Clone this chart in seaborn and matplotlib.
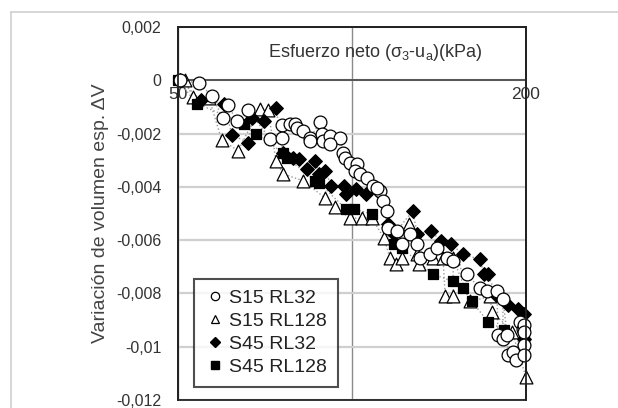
import matplotlib
matplotlib.use("Agg")
import matplotlib.pyplot as plt
from matplotlib.lines import Line2D
from matplotlib.patches import Rectangle
import pandas as pd
import seaborn as sns

# S15 RL32 (circulos)
s15_rl32_x = [50.4, 54.4, 57.3, 61.0, 59.8, 63.2, 66.1, 72.1, 75.7, 75.7, 78.2, 79.7, 80.4, 82.3,
              84.6, 84.6, 88.1, 88.8, 89.2, 91.7, 95.3, 91.7, 96.5, 97.2, 99.2, 102.0, 101.2, 103.2,
              106.2, 108.8, 111.8, 110.5, 113.2, 115.0, 115.4, 119.6, 122.0, 126.0, 129.6, 131.1,
              136.5, 140.4, 146.1, 149.7, 158.1, 166.5, 171.2, 178.2, 182.5, 178.9, 182.5, 185.5,
              186.3, 190.0, 192.3, 195.4, 197.7, 198.5, 198.5, 198.5, 198.5]
s15_rl32_y = [0.0, -0.0001, -0.0006, -0.00094, -0.00143, -0.00151, -0.0011, -0.00219, -0.00166,
              -0.00215, -0.00162, -0.00162, -0.00177, -0.00189, -0.00215, -0.00226, -0.00158,
              -0.002, -0.00226, -0.00208, -0.00215, -0.00238, -0.00272, -0.00291, -0.00309,
              -0.00313, -0.0034, -0.00351, -0.00366, -0.00396, -0.00415, -0.00404, -0.00453,
              -0.0049, -0.00555, -0.00566, -0.00615, -0.00577, -0.00615, -0.00668, -0.00653,
              -0.0063, -0.00668, -0.00679, -0.00728, -0.00781, -0.00792, -0.00792, -0.00819,
              -0.00955, -0.0097, -0.00955, -0.0103, -0.01019, -0.01049, -0.00906, -0.00932,
              -0.00917, -0.00943, -0.00992, -0.0103]

# S15 RL128 (triangulos)
s15_rl128_x = [51.4, 53.1, 56.6, 59.5, 63.5, 69.3, 71.6, 73.9, 76.0, 82.3, 89.9, 93.5, 99.2, 104.0,
               108.3, 113.6, 116.4, 119.2, 122.0, 125.5, 129.6, 130.6, 138.2, 143.8, 145.0, 149.7,
               149.7, 160.0, 173.3, 174.7, 189.3, 200.0]
s15_rl128_y = [0.0, -0.00064, -0.00068, -0.00223, -0.00264, -0.00106, -0.00113, -0.00302, -0.00351,
               -0.00377, -0.00442, -0.00475, -0.00517, -0.00517, -0.00517, -0.00592, -0.00668,
               -0.00691, -0.00668, -0.0054, -0.00653, -0.00691, -0.00668, -0.00668, -0.00811,
               -0.00811, -0.00668, -0.0083, -0.00811, -0.00868, -0.00943, -0.01113]

# S45 RL32 (rombos)
s45_rl32_x = [50.4, 54.8, 60.0, 62.0, 66.1, 67.2, 70.5, 73.9, 76.0, 79.1, 81.0, 83.6, 86.4, 87.8,
              89.9, 92.1, 96.9, 97.6, 101.6, 105.7, 111.0, 115.4, 118.2, 127.5, 129.6, 137.1,
              142.7, 148.5, 155.6, 166.5, 169.2, 171.9, 177.5, 186.3, 193.8, 198.5, 198.5]
s45_rl32_y = [0.0, -0.00075, -0.00087, -0.00204, -0.00234, -0.00143, -0.00151, -0.00102, -0.00272,
              -0.00291, -0.00294, -0.00332, -0.00302, -0.00351, -0.0034, -0.00396, -0.00396,
              -0.00426, -0.00408, -0.00426, -0.00415, -0.0054, -0.00577, -0.0049, -0.00577,
              -0.00566, -0.00604, -0.00615, -0.00653, -0.00672, -0.00728, -0.00728, -0.00804,
              -0.00842, -0.00857, -0.00879, -0.0097]

# S45 RL128 (cuadrados)
s45_rl128_x = [50.0, 53.9, 65.0, 68.2, 76.0, 77.2, 86.4, 87.8, 97.6, 100.8, 108.3, 118.2, 122.0,
               138.2, 149.7, 155.6, 161.3, 171.9, 183.3, 198.5]
s45_rl128_y = [0.0, -0.00087, -0.00162, -0.002, -0.00272, -0.00291, -0.00377, -0.00385, -0.00483,
               -0.00483, -0.00502, -0.00615, -0.0063, -0.00728, -0.00755, -0.00781, -0.0083,
               -0.00906, -0.00936, -0.00981]

series = ["S15 RL32", "S15 RL128", "S45 RL32", "S45 RL128"]
x_ticks = [50, 100, 200]
x_tick_labels = ["50", "", "200"]
y_ticks = [0.002, 0.0, -0.002, -0.004, -0.006, -0.008, -0.01, -0.012]
y_tick_labels = ["0,002", "0", "-0,002", "-0,004", "-0,006", "-0,008", "-0,01", "-0,012"]

df = pd.concat([
    pd.DataFrame({"esfuerzo": s15_rl32_x, "dv": s15_rl32_y, "serie": series[0]}),
    pd.DataFrame({"esfuerzo": s15_rl128_x, "dv": s15_rl128_y, "serie": series[1]}),
    pd.DataFrame({"esfuerzo": s45_rl32_x, "dv": s45_rl32_y, "serie": series[2]}),
    pd.DataFrame({"esfuerzo": s45_rl128_x, "dv": s45_rl128_y, "serie": series[3]}),
])

estilos = {
    "S15 RL32": dict(marker="o", facecolor="white", s=85),
    "S15 RL128": dict(marker="^", facecolor="white", s=85),
    "S45 RL32": dict(marker="D", facecolor="black", s=48),
    "S45 RL128": dict(marker="s", facecolor="black", s=62),
}

sns.set_style("white")
plt.rcParams["font.family"] = ["Liberation Sans", "DejaVu Sans"]
plt.rcParams["mathtext.default"] = "regular"

fig = plt.figure(figsize=(6.18, 4.08), dpi=100)
ax = fig.add_axes([0.288, 0.0196, 0.563, 0.914])

orden = ["S15 RL128", "S45 RL32", "S45 RL128", "S15 RL32"]
for nombre in orden:
    sub = df[df["serie"] == nombre]
    sns.lineplot(data=sub, x="esfuerzo", y="dv", estimator=None, sort=True, color="#9a9a9a",
                 linestyle=":", linewidth=1.0, ax=ax, zorder=2, legend=False)
for nombre in orden:
    sub = df[df["serie"] == nombre]
    st = estilos[nombre]
    sns.scatterplot(data=sub, x="esfuerzo", y="dv", marker=st["marker"], s=st["s"],
                    facecolor=st["facecolor"], edgecolor="black", linewidth=0.9, ax=ax,
                    zorder=3, legend=False, clip_on=False)

ax.set_xscale("log")
ax.set_xlim(50, 200)
ax.set_ylim(-0.012, 0.002)
ax.set_xticks(x_ticks)
ax.set_xticklabels(x_tick_labels)
ax.xaxis.set_minor_locator(plt.NullLocator())
ax.set_yticks(y_ticks)
ax.set_yticklabels(y_tick_labels)
ax.tick_params(axis="y", length=0, pad=12, labelsize=11.5, colors="#333333")
ax.tick_params(axis="x", length=0, pad=5, labelsize=12.5, colors="#333333")
ax.set_xlabel("")
ax.set_ylabel("Variación de volumen esp. ΔV", fontsize=14, color="#444444", labelpad=5)

ax.yaxis.grid(True, color="#cfcfcf", linewidth=1.6)
ax.xaxis.grid(True, color="#8a8a8a", linewidth=1.0)
ax.set_axisbelow(True)

ax.spines["bottom"].set_position(("data", 0))
ax.spines["bottom"].set_color("#555555")
ax.spines["bottom"].set_linewidth(1.4)
for lado in ["top", "left", "right"]:
    ax.spines[lado].set_color("#222222")
    ax.spines[lado].set_linewidth(1.3)
ax.add_patch(Rectangle((0, 0), 1, 1, transform=ax.transAxes, fill=False,
                       edgecolor="#222222", linewidth=1.3, zorder=5, clip_on=False))

ax.text(0.26, 0.933, r"Esfuerzo neto ($\sigma_3$-u$_a$)(kPa)", transform=ax.transAxes,
        fontsize=13, color="#333333", va="center", ha="left", zorder=6)

handles = [
    Line2D([], [], linestyle="none", marker="o", markersize=6, markerfacecolor="white",
           markeredgecolor="black", markeredgewidth=0.9),
    Line2D([], [], linestyle="none", marker="^", markersize=6, markerfacecolor="white",
           markeredgecolor="black", markeredgewidth=0.9),
    Line2D([], [], linestyle="none", marker="D", markersize=5, markerfacecolor="black",
           markeredgecolor="black"),
    Line2D([], [], linestyle="none", marker="s", markersize=6, markerfacecolor="black",
           markeredgecolor="black"),
]
leg = ax.legend(handles, series, loc="lower left", bbox_to_anchor=(0.046, 0.035),
                borderaxespad=0, fontsize=14, frameon=True, fancybox=False,
                handlelength=1.1, handletextpad=0.15, labelspacing=0.28,
                borderpad=0.55, labelcolor="#222222")
leg.get_frame().set_edgecolor("#222222")
leg.get_frame().set_linewidth(1.5)
leg.set_zorder(7)

fig.add_artist(Line2D([11 / 618, 1], [1 - 12 / 408, 1 - 12 / 408], color="#d0d0d0", linewidth=1.2))
fig.add_artist(Line2D([11 / 618, 11 / 618], [0, 1 - 12 / 408], color="#d0d0d0", linewidth=1.2))

fig.savefig("out.png", dpi=100, facecolor="white")
